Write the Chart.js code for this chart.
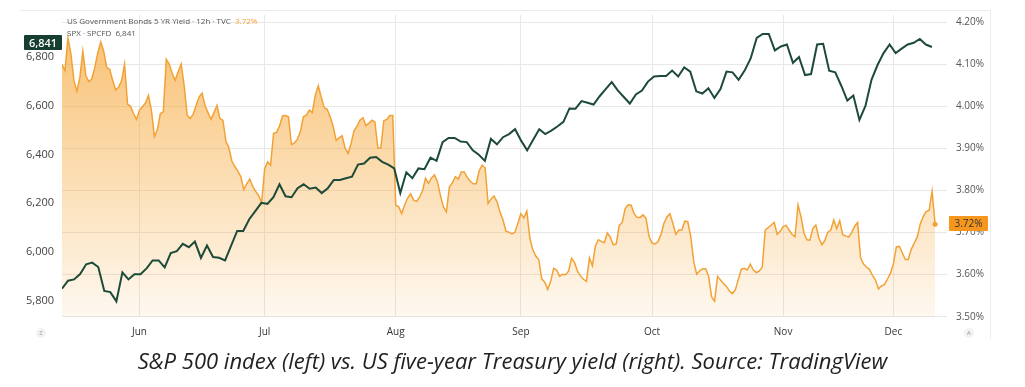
<!doctype html>
<html>
<head>
    <meta charset="utf-8">
    <title>S&amp;P 500 vs US 5Y yield</title>
    <script src="https://cdn.jsdelivr.net/npm/chart.js"></script>
    <style>
        body { margin: 0; background: #fff; font-family: "Open Sans", sans-serif; }
        .wrap { position: relative; width: 1025px; height: 387px; overflow: hidden; }
        .frame { position: absolute; left: 20px; top: 10px; width: 970px; height: 328px; border-top: 1px solid #ececec; border-right: 1px solid #ececec; }
        #chart { position: absolute; left: 0; top: 0; }
        .legend { position: absolute; left: 67px; font-size: 8px; line-height: 10px; color: #555; white-space: nowrap; }
        .orange { color: #f2a235; }
        .badge { position: absolute; height: 15px; line-height: 15px; text-align: center; border-radius: 1px; }
        .badge.spx { left: 24px; top: 35px; width: 38px; background: #163f30; color: #fff; font-size: 11px; font-weight: 600; }
        .badge.yld { left: 949px; top: 216px; width: 39px; background: #f7961c; color: #333; font-size: 10px; }
        .icon { position: absolute; top: 328px; width: 10px; height: 10px; line-height: 10px; border-radius: 5px; background: #f2f2f2; color: #999; font-size: 6px; text-align: center; }
        .caption { position: absolute; left: 0; width: 1025px; top: 347px; text-align: center; font-style: italic; font-size: 22px; line-height: 26px; color: #222; white-space: nowrap; }
    </style>
</head>

<body>
    <div class="wrap">
        <div class="frame"></div>
        <canvas id="chart" width="1025" height="387"></canvas>
        <div class="legend" style="top:16px">US Government Bonds 5 YR Yield · 12h · TVC&nbsp;&nbsp;<span class="orange">3.72%</span></div>
        <div class="legend" style="top:28px">SPX · SPCFD&nbsp;&nbsp;6,841</div>
        <div class="badge spx">6,841</div>
        <div class="badge yld">3.72%</div>
        <div class="icon" style="left:36px">Z</div>
        <div class="icon" style="left:964px">A</div>
        <div class="caption">S&amp;P 500 index (left) vs. US five-year Treasury yield (right). Source: TradingView</div>
    </div>

    <script>
        // Month labels and the 12h bar where each month starts
        const monthLabels = ['Jun', 'Jul', 'Aug', 'Sep', 'Oct', 'Nov', 'Dec'];
        const monthStartBar = [26, 68, 112, 154, 198, 242, 279];

        const spxTicks = [5800, 6000, 6200, 6400, 6600, 6800];
        const yieldTicks = [3.5, 3.6, 3.7, 3.8, 3.9, 4.0, 4.1, 4.2];

        // S&P 500, daily closes (left axis)
        const spxClose = [
            5850, 5883, 5888, 5910, 5950, 5957, 5939, 5841, 5836, 5798, 5917, 5888, 5909, 5909, 5933, 5966, 5966, 5937, 5996, 6004, 6034, 6020, 6043, 5976, 6027,
            5980, 5977, 5966, 6027, 6087, 6087, 6135, 6168, 6202, 6198, 6225, 6278, 6229, 6225, 6262, 6278, 6260, 6265, 6242, 6262, 6296, 6296, 6303, 6309,
            6359, 6363, 6387, 6390, 6370, 6359, 6343, 6242, 6327, 6303, 6343, 6340, 6387, 6374, 6451, 6468, 6468, 6453, 6451, 6417, 6399, 6374, 6464, 6442,
            6471, 6484, 6504, 6457, 6417, 6461, 6504, 6484, 6498, 6515, 6534, 6589, 6588, 6619, 6612, 6605, 6639, 6668, 6697, 6663, 6636, 6609, 6646, 6662,
            6699, 6720, 6722, 6722, 6744, 6720, 6757, 6740, 6659, 6650, 6672, 6632, 6668, 6740, 6737, 6706, 6744, 6794, 6878, 6894, 6894, 6827, 6843, 6851,
            6776, 6800, 6726, 6730, 6851, 6854, 6744, 6737, 6682, 6621, 6642, 6542, 6599, 6706, 6767, 6816, 6851, 6816, 6834, 6851, 6858, 6874, 6851, 6841
        ];

        // US 5Y yield, 12h bars (right axis, %)
        const yield5y = [
            4.100, 4.085, 4.162, 4.124, 4.061, 4.036, 4.069, 4.131, 4.073, 4.059, 4.065, 4.092, 4.127, 4.153, 4.131, 4.092,
            4.088, 4.062, 4.039, 4.045, 4.061, 4.100, 4.005, 4.000, 3.983, 3.969, 3.991, 3.999, 4.008, 4.026, 3.991, 3.928,
            3.944, 3.983, 3.987, 4.112, 4.100, 4.078, 4.062, 4.083, 4.101, 4.049, 3.979, 3.971, 3.981, 4.002, 4.022, 4.031,
            // Jun / Jul
            4.002, 3.985, 3.969, 3.985, 4.002, 3.971, 3.967, 3.917, 3.902, 3.870, 3.857, 3.846, 3.833, 3.802, 3.816, 3.827,
            3.810, 3.798, 3.788, 3.770, 3.851, 3.868, 3.860, 3.936, 3.938, 3.953, 3.977, 3.978, 3.975, 3.909, 3.913, 3.922,
            3.940, 3.975, 3.979, 3.991, 3.985, 4.026, 4.049, 4.022, 3.997, 3.993, 3.975, 3.952, 3.919, 3.925, 3.930, 3.901, 3.888,
            3.911, 3.942, 3.953, 3.967, 3.973, 3.954, 3.960, 3.967, 3.963, 3.901, 3.901, 3.966, 3.969, 3.978, 3.978,
            // Aug
            3.765, 3.761, 3.745, 3.766, 3.782, 3.792, 3.777, 3.774, 3.784, 3.800, 3.829, 3.817, 3.830, 3.837, 3.821,
            3.788, 3.761, 3.749, 3.808, 3.818, 3.833, 3.827, 3.844, 3.844, 3.831, 3.822, 3.816, 3.816, 3.847, 3.860, 3.854, 3.769,
            3.780, 3.787, 3.773, 3.749, 3.730, 3.703, 3.701, 3.697, 3.701, 3.722, 3.745, 3.735, 3.751, 3.687, 3.659, 3.644,
            3.636, 3.590, 3.582, 3.565, 3.584, 3.615, 3.611, 3.596, 3.601, 3.600, 3.608, 3.639, 3.629, 3.608, 3.597, 3.589,
            3.584, 3.640, 3.621, 3.668, 3.683, 3.679, 3.676, 3.699, 3.689, 3.671, 3.673, 3.717, 3.724, 3.757, 3.766, 3.765, 3.745, 3.736,
            // Oct
            3.736, 3.742, 3.734, 3.691, 3.675, 3.673, 3.678, 3.695, 3.722, 3.737, 3.745, 3.722, 3.696, 3.706, 3.706, 3.727,
            3.726, 3.691, 3.631, 3.601, 3.609, 3.614, 3.614, 3.596, 3.547, 3.537, 3.596, 3.587, 3.579, 3.572, 3.561, 3.555,
            3.564, 3.590, 3.613, 3.615, 3.611, 3.625, 3.611, 3.605, 3.608, 3.618, 3.706, 3.712, 3.718, 3.724, 3.696, 3.703, 3.714,
            // Nov / Dec
            3.717, 3.706, 3.696, 3.690, 3.766, 3.738, 3.699, 3.683, 3.682, 3.710, 3.718, 3.687, 3.671, 3.681, 3.701, 3.706,
            3.730, 3.709, 3.728, 3.695, 3.692, 3.689, 3.700, 3.715, 3.724, 3.640, 3.625, 3.618, 3.612, 3.598, 3.587, 3.566,
            3.573, 3.576, 3.589, 3.603, 3.625, 3.666, 3.667, 3.652, 3.636, 3.636, 3.660, 3.675, 3.689, 3.720, 3.738, 3.750,
            3.753, 3.798, 3.720
        ];

        const font = "'Open Sans', sans-serif";
        const gridColor = '#e8e8e8';

        // orange fill fading towards the bottom of the pane
        function areaFill(c) {
            const area = c.chart.chartArea;
            if (!area) return 'rgba(245,160,40,0.3)';
            const g = c.chart.ctx.createLinearGradient(0, area.top, 0, area.bottom);
            g.addColorStop(0, 'rgba(245,160,40,0.68)');
            g.addColorStop(1, 'rgba(245,160,40,0.07)');
            return g;
        }

        const ctx = document.getElementById('chart').getContext('2d');
        const chart = new Chart(ctx, {
            type: 'line',
            data: {
                datasets: [{
                    label: 'SPX',
                    data: spxClose.map((v, i) => ({ x: i, y: v })),
                    xAxisID: 'xd',
                    yAxisID: 'yl',
                    borderColor: '#1d4a39',
                    borderWidth: 2,
                    pointRadius: 0,
                    fill: false
                },
                {
                    label: 'US05Y',
                    data: yield5y.map((v, i) => ({ x: i, y: v })),
                    xAxisID: 'x',
                    yAxisID: 'yr',
                    borderColor: '#f2a235',
                    borderWidth: 1.5,
                    backgroundColor: areaFill,
                    fill: 'start',
                    pointRadius: c => c.dataIndex === yield5y.length - 1 ? 2.5 : 0,
                    pointBackgroundColor: '#f2a235',
                    pointBorderWidth: 0
                }]
            },
            options: {
                responsive: false,
                animation: false,
                devicePixelRatio: 1,
                layout: { padding: { top: 10, left: 0, right: 0, bottom: 0 } },
                plugins: { legend: { display: false }, tooltip: { enabled: false } },
                scales: {
                    x: {
                        type: 'linear',
                        min: 0,
                        max: 297,
                        afterBuildTicks: s => { s.ticks = monthStartBar.map(v => ({ value: v })); },
                        afterFit: s => { s.height = 70; },
                        grid: { color: gridColor, drawTicks: false },
                        border: { display: false },
                        ticks: {
                            callback: (v, i) => monthLabels[i],
                            autoSkip: false,
                            maxRotation: 0,
                            padding: 9,
                            color: '#333',
                            font: { family: font, size: 10 }
                        }
                    },
                    xd: { type: 'linear', display: false, min: 0, max: 146.5 },
                    yl: {
                        position: 'left',
                        min: 5734,
                        max: 6972,
                        afterBuildTicks: s => { s.ticks = spxTicks.map(v => ({ value: v })); },
                        afterFit: s => { s.width = 62; },
                        grid: { display: false, drawTicks: false },
                        border: { display: false },
                        ticks: {
                            callback: v => v.toLocaleString('en-US'),
                            padding: 8,
                            color: '#444',
                            font: { family: font, size: 11 }
                        }
                    },
                    yr: {
                        position: 'right',
                        min: 3.4993,
                        max: 4.2171,
                        afterBuildTicks: s => { s.ticks = yieldTicks.map(v => ({ value: v })); },
                        afterFit: s => { s.width = 78; },
                        grid: { color: gridColor, drawTicks: false },
                        border: { display: false },
                        ticks: {
                            callback: v => v.toFixed(2) + '%',
                            padding: 9,
                            color: '#555',
                            font: { family: font, size: 10 }
                        }
                    }
                }
            }
        });
    </script>
</body>
</html>
